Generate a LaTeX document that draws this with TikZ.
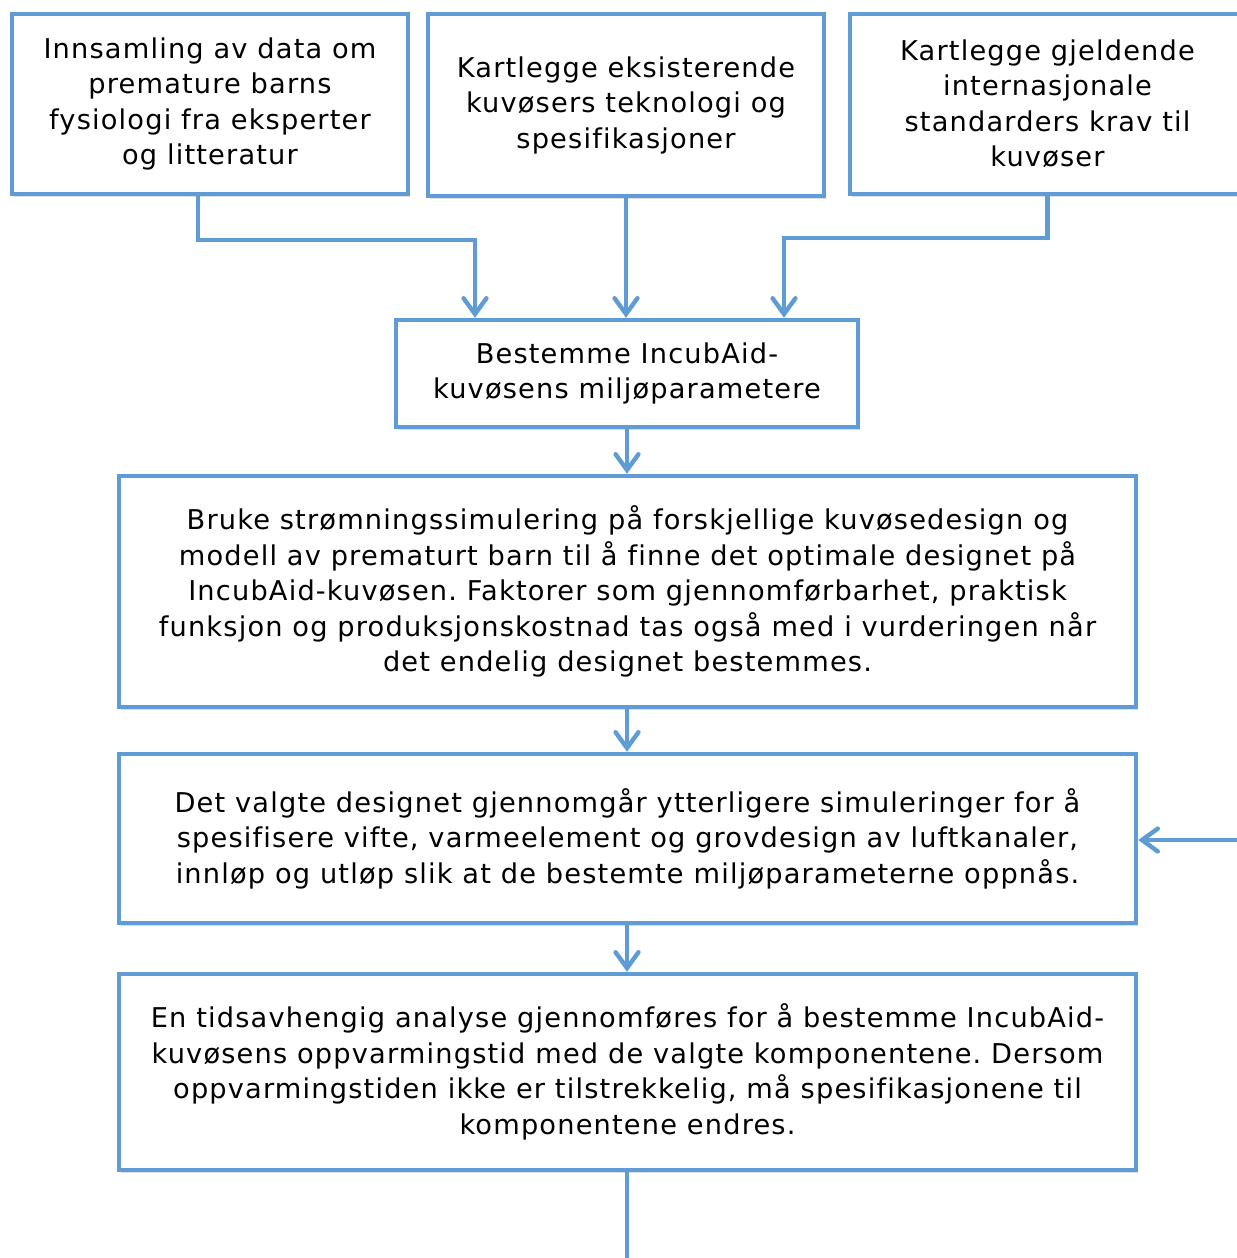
\documentclass[tikz,border=0pt]{standalone}
\usepackage{fontspec}
\setmainfont[LetterSpace=4.3, Ligatures=NoCommon]{DejaVu Sans}
\usepackage{tikz}
\usetikzlibrary{calc,arrows.meta,shadows}
\definecolor{sblue}{HTML}{5F9BD4}
\frenchspacing

\begin{document}
\begin{tikzpicture}[
    BOX/.style={draw=sblue, line width=2.5pt, fill=white, align=center, inner sep=0pt,
        font=\fontsize{15.5}{20.2}\selectfont,
        drop shadow={opacity=0.25, shadow xshift=1.2pt, shadow yshift=-1.6pt}},
    LINK/.style={draw=sblue, line width=2.5pt},
    ARR/.style={LINK, -{Straight Barb[length=9pt, width=13pt, line width=2.5pt, line cap=round]}}
    ]
        \useasboundingbox (0,0) rectangle (24.74,-25.16);
        % top row
        \node[BOX, minimum width=7.92cm, minimum height=3.6cm] (B1) at (4.2,-2.08) {Innsamling av data om\\premature barns\\fysiologi fra eksperter\\og litteratur};
        \node[BOX, minimum width=7.92cm, minimum height=3.64cm] (B2) at (12.52,-2.1) {Kartlegge eksisterende\\kuvøsers teknologi og\\spesifikasjoner};
        \node[BOX, minimum width=7.9cm, minimum height=3.6cm] (B3) at (20.95,-2.08) {Kartlegge gjeldende\\internasjonale\\standarders krav til\\kuvøser};
        % main chain
        \node[BOX, minimum width=9.24cm, minimum height=2.14cm] (B4) at (12.54,-7.47) {Bestemme IncubAid-\\kuvøsens miljøparametere};
        \node[BOX, minimum width=20.34cm, minimum height=4.62cm] (B5) at (12.55,-11.83) {Bruke strømningssimulering på forskjellige kuvøsedesign og\\modell av prematurt barn til å finne det optimale designet på\\IncubAid-kuvøsen. Faktorer som gjennomførbarhet, praktisk\\funksjon og produksjonskostnad tas også med i vurderingen når\\det endelig designet bestemmes.};
        \node[BOX, minimum width=20.34cm, minimum height=3.38cm] (B6) at (12.55,-16.77) {Det valgte designet gjennomgår ytterligere simuleringer for å\\spesifisere vifte, varmeelement og grovdesign av luftkanaler,\\innløp og utløp slik at de bestemte miljøparameterne oppnås.};
        \node[BOX, minimum width=20.34cm, minimum height=3.92cm] (B7) at (12.55,-21.44) {En tidsavhengig analyse gjennomføres for å bestemme IncubAid-\\kuvøsens oppvarmingstid med de valgte komponentene. Dersom\\oppvarmingstiden ikke er tilstrekkelig, må spesifikasjonene til\\komponentene endres.};
        \coordinate (FB) at (24.9,-16.8);
        \coordinate (OUT) at (12.54,-25.4);
        % connectors
        \draw[ARR] ([xshift=-2.4mm]B1.south) -- ++(0,-0.88) -| ([xshift=-3.04cm]B4.north);
        \draw[ARR] (B2.south) -- (B2.south |- B4.north);
        \draw[ARR] (B3.south) -- ++(0,-0.84) -| ([xshift=3.14cm]B4.north);
        \draw[ARR] (B4.south) -- (B4.south |- B5.north);
        \draw[ARR] (B5.south -| B4.south) -- (B6.north -| B4.south);
        \draw[ARR] (B6.south -| B4.south) -- (B7.north -| B4.south);
        \draw[ARR] (FB) -- (FB -| B6.east);
        \draw[LINK] (B7.south -| OUT) -- (OUT);
    \end{tikzpicture}
\end{document}
